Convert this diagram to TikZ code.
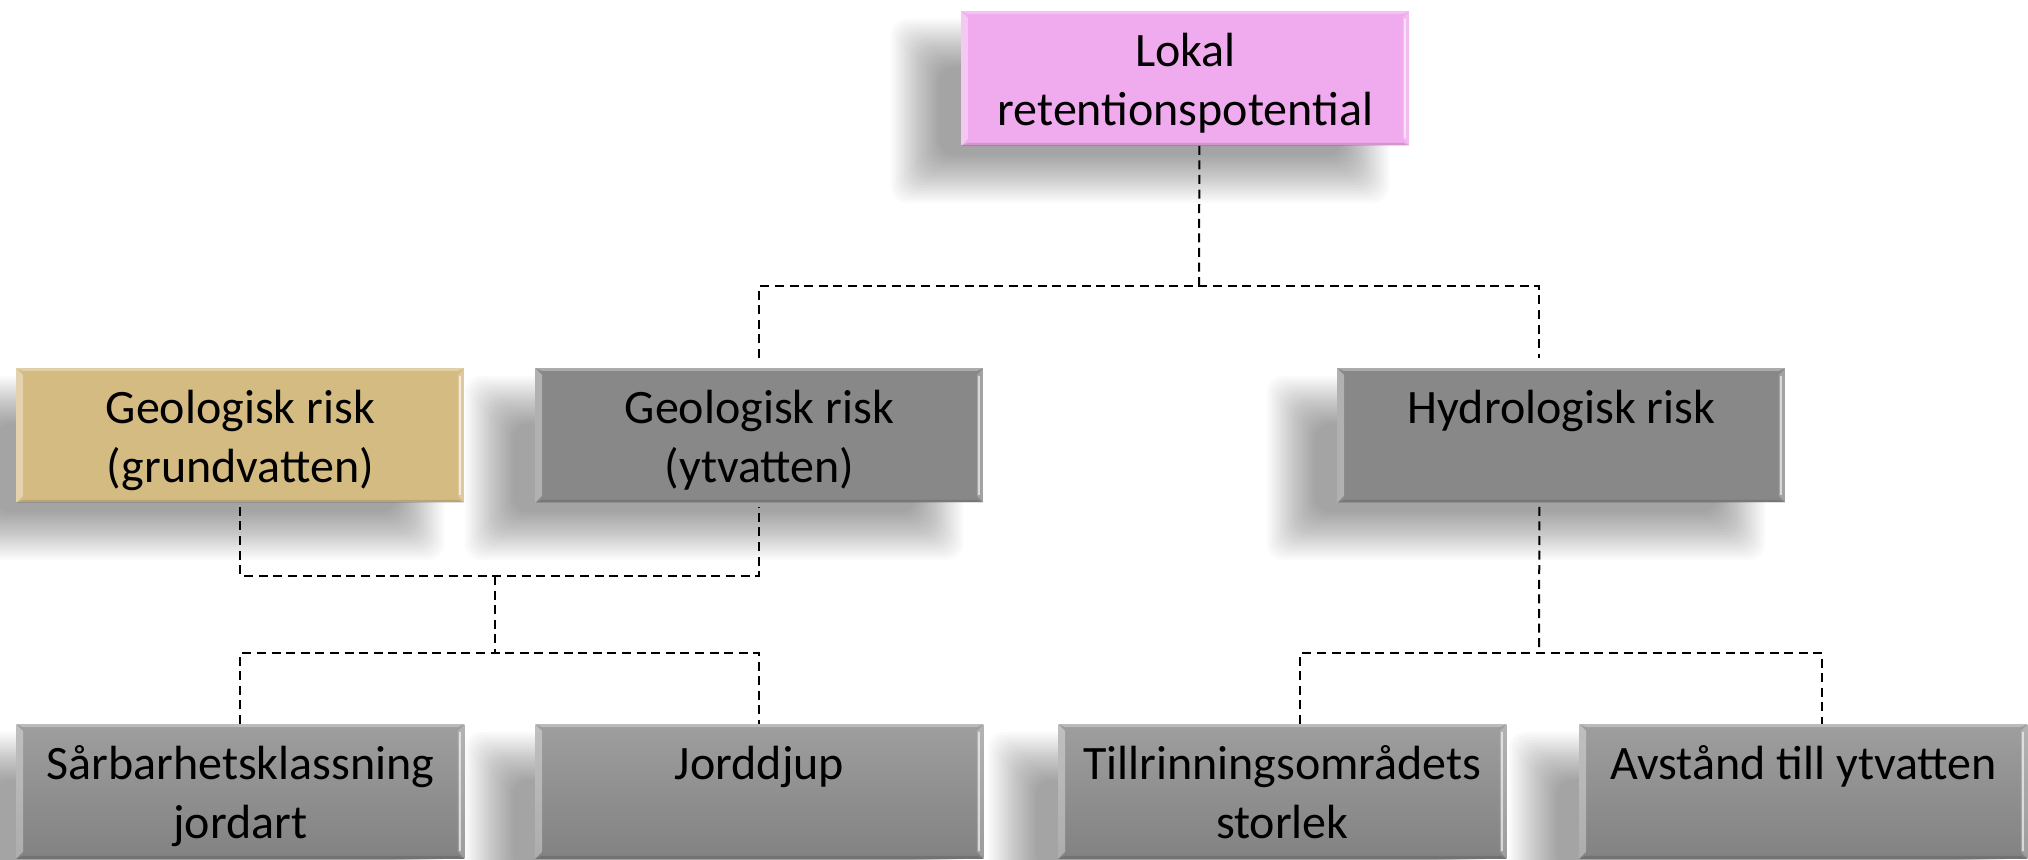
\documentclass[tikz,border=0pt]{standalone}
\usepackage{fontspec}
\setmainfont{Carlito}
\definecolor{pinkc}{RGB}{240,170,238}
\definecolor{tanc}{RGB}{212,187,130}
\definecolor{grayc}{RGB}{136,136,136}
\definecolor{graytop}{RGB}{158,158,158}
\definecolor{graybot}{RGB}{130,130,130}
\tikzset{
  boxbase/.style={rectangle, inner sep=0pt, minimum width=224pt, minimum height=67pt, draw=none},
  pinkbox/.style={fill=pinkc},
  tanbox/.style={fill=tanc},
  graybox/.style={fill=grayc},
  gradbox/.style={top color=graytop, bottom color=graybot},
  boxtext/.style={align=center, inner sep=0pt, anchor=north, text=black, font=\fontsize{24}{29.5}\selectfont},
  conn/.style={line width=1pt, dash pattern=on 4.5pt off 2.8pt, black},
}
\newcommand\bevelbox[1]{%
  \fill[white,opacity=0.35] (#1.north west) -- ([shift={(7,7)}]#1.north west) -- ([shift={(7,-7)}]#1.south west) -- (#1.south west) -- cycle;
  \fill[white,opacity=0.22] (#1.north east) -- ([shift={(-7,7)}]#1.north east) -- ([shift={(-7,-7)}]#1.south east) -- (#1.south east) -- cycle;
  \fill[white,opacity=0.3] (#1.north west) -- (#1.north east) -- ([shift={(-7,3)}]#1.north east) -- ([shift={(7,3)}]#1.north west) -- cycle;
  \fill[black,opacity=0.12] (#1.south west) -- (#1.south east) -- ([shift={(-7,-3)}]#1.south east) -- ([shift={(7,-3)}]#1.south west) -- cycle;
  \draw[white,opacity=0.6,line width=0.8pt] ([shift={(-5,8)}]#1.north east) -- ([shift={(-5,-8)}]#1.south east);
}
\newcommand\mybox[5]{%
  \foreach \k in {0,...,19}{%
    \fill[black,opacity=0.021,rounded corners=8pt] (#2-70+2.5*\k,#3+8+2.5*\k) rectangle (#2+428-2.5*\k,#3+192-2.5*\k);}
  \node[boxbase,#4,anchor=north west] (#1) at (#2,#3) {};
  \bevelbox{#1}
  \node[boxtext] (#1t) at ([yshift=-7pt]#1.north) {\rule{0pt}{0.85em}#5};
}
\begin{document}
\begin{tikzpicture}[x=0.5pt,y=-0.5pt]
\fill[white] (0,0) rectangle (2028,860);
\useasboundingbox (0,0) rectangle (2028,860);

\mybox{lok}{961}{11}{pinkbox}{Lokal\\retentionspotential}
\mybox{geo1}{16}{368}{tanbox}{Geologisk risk\\(grundvatten)}
\mybox{geo2}{535}{368}{graybox}{Geologisk risk\\(ytvatten)}
\mybox{hyd}{1337}{368}{graybox}{Hydrologisk risk}
\mybox{sar}{16}{724}{gradbox}{Sårbarhetsklassning\\jordart}
\mybox{jord}{535}{724}{gradbox}{Jorddjup}
\mybox{til}{1058}{724}{gradbox}{Tillrinningsområdets\\storlek}
\mybox{avs}{1579}{724}{gradbox}{Avstånd till ytvatten}

% connectors
\coordinate (j1) at (1199,286);
\draw[conn] ([xshift=7pt]lok.south) -- (j1);
\draw[conn] ([yshift=5pt]geo2.north) |- (j1) -| ([xshift=-11pt,yshift=5pt]hyd.north);

\coordinate (j2) at (495,576);
\coordinate (j3) at (495,653);
\draw[conn] ([yshift=-2pt]geo1.south) |- (j2) -| ([yshift=-2pt]geo2.south);
\draw[conn] (j2) -- (j3);
\draw[conn] (sar.north) |- (j3) -| (jord.north);

\coordinate (j4) at (1539,653);
\draw[conn] ([xshift=-11pt,yshift=-2pt]hyd.south) -- (j4);
\draw[conn] ([xshift=9pt]til.north) |- (j4) -| ([xshift=9.5pt]avs.north);
\end{tikzpicture}
\end{document}
